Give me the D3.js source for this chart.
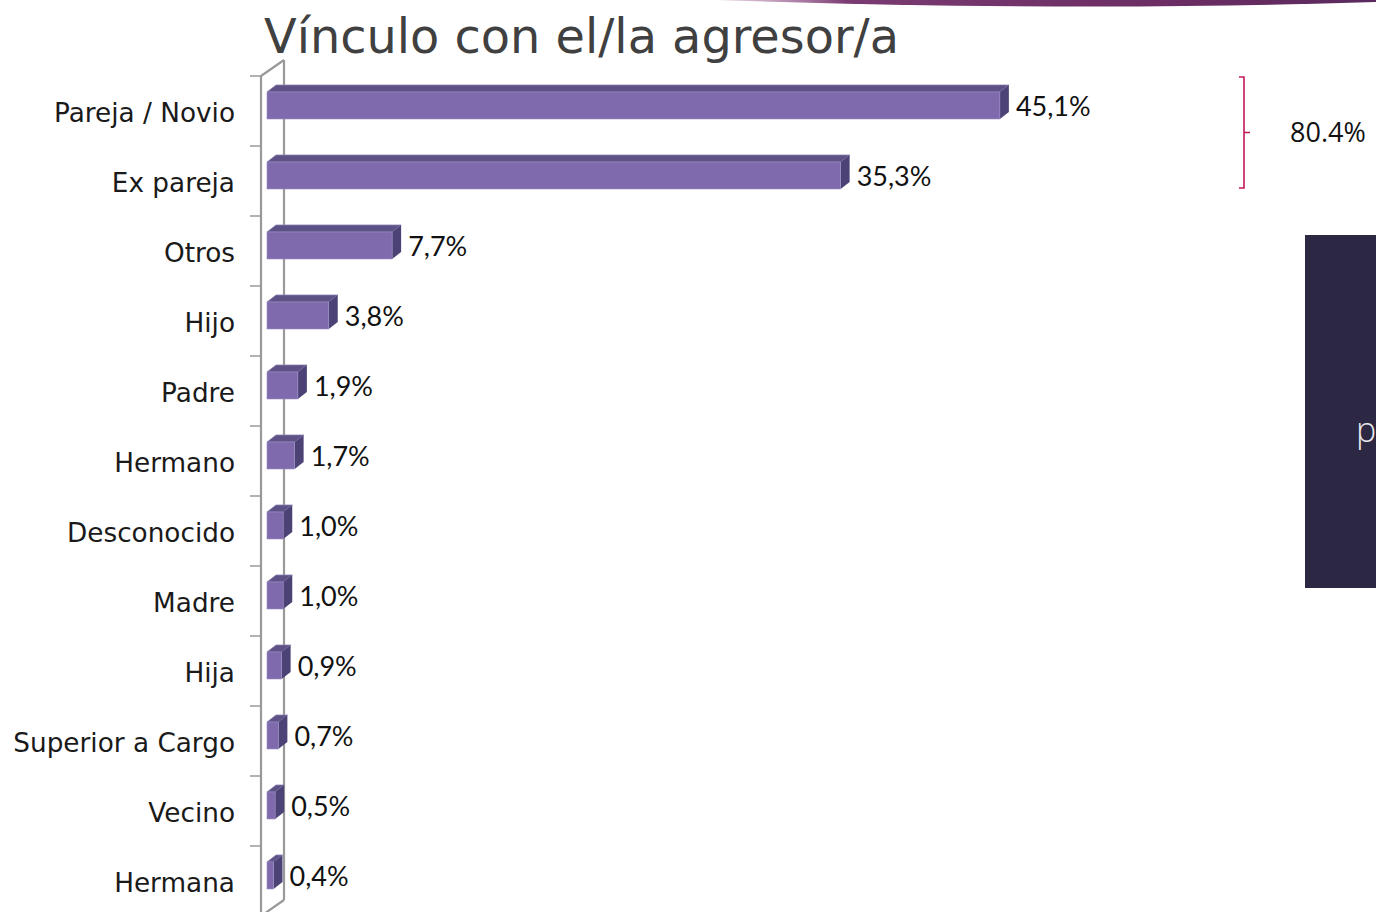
<!DOCTYPE html>
<html><head><meta charset="utf-8">
<script src="https://cdn.jsdelivr.net/npm/d3@7"></script>
<style>html,body{margin:0;padding:0;background:#fff;overflow:hidden}</style>
</head><body>
<svg id="c" width="1376" height="912"></svg>
<script>
const categories = ["Pareja / Novio","Ex pareja","Otros","Hijo","Padre","Hermano","Desconocido","Madre","Hija","Superior a Cargo","Vecino","Hermana"];
const values = [45.1,35.3,7.7,3.8,1.9,1.7,1.0,1.0,0.9,0.7,0.5,0.4];
const valueLabels = ["45,1%","35,3%","7,7%","3,8%","1,9%","1,7%","1,0%","1,0%","0,9%","0,7%","0,5%","0,4%"];
const titleText = "Vínculo con el/la agresor/a";
const bracketLabel = "80.4%";
const sideText = "p";

const svg = d3.select("#c");
const CAT_FONT = "'DejaVu Sans', sans-serif";
const VAL_FONT = "Lato, 'Noto Sans', sans-serif";

// decorative top band
const defs = svg.append("defs");
const g1 = defs.append("linearGradient").attr("id","topband").attr("x1","0").attr("x2","1");
g1.append("stop").attr("offset","0").attr("stop-color","#b07aa8").attr("stop-opacity",0.3);
g1.append("stop").attr("offset","0.2").attr("stop-color","#7a3a72");
g1.append("stop").attr("offset","0.7").attr("stop-color","#6b2d63");
g1.append("stop").attr("offset","1").attr("stop-color","#5a2a5e");
svg.append("path").attr("d","M715,0 L1376,0 L1376,2 Q1080,12 715,0 Z").attr("fill","url(#topband)");

const x = d3.scaleLinear().domain([0,50]).range([267,1079.5]);
const y = d3.scaleBand().domain(categories).range([76,916]).padding(0);
const bw = y.bandwidth();
const DX = 9, DY = 7, FT = 16, FH = 27;
const WX = 23, WY = 16;
const x0 = 261;

// axis wall lines
const axisG = svg.append("g").attr("stroke","#999").attr("stroke-width",2.2).attr("fill","none");
const yTop = y.range()[0], yBot = y.range()[1];
axisG.append("line").attr("x1",x0).attr("y1",yTop).attr("x2",x0).attr("y2",yBot);
axisG.append("line").attr("x1",x0+WX).attr("y1",yTop-WY).attr("x2",x0+WX).attr("y2",yBot-WY);
axisG.append("line").attr("x1",x0).attr("y1",yTop).attr("x2",x0+WX).attr("y2",yTop-WY);
axisG.append("line").attr("x1",x0).attr("y1",yBot).attr("x2",x0+WX).attr("y2",yBot-WY);
const tickYs = categories.map(c => y(c)).concat([yBot]);
axisG.selectAll("line.tick").data(tickYs).enter().append("line").attr("class","tick")
  .attr("x1",x0-11).attr("x2",x0).attr("y1",d=>d).attr("y2",d=>d).attr("stroke-width",1.5);

// bars
const data = categories.map((c,i)=>({c, v:values[i], lab:valueLabels[i]}));
const bars = svg.append("g").selectAll("g").data(data).enter().append("g");
bars.append("path").attr("fill","#5d5186").attr("stroke","#8c80b0").attr("stroke-width",0.8)
  .attr("d", d=>{const t=y(d.c)+FT, a=x(0), b=x(d.v);
    return `M${a},${t} L${a+DX},${t-DY} L${b+DX},${t-DY} L${b},${t} Z`;});
bars.append("path").attr("fill","#4d4275")
  .attr("d", d=>{const t=y(d.c)+FT, b=x(d.v);
    return `M${b},${t} L${b+DX},${t-DY} L${b+DX},${t-DY+FH} L${b},${t+FH} Z`;});
bars.append("rect").attr("fill","#7e6aad").attr("stroke","#9a8cc4").attr("stroke-width",0.6)
  .attr("x",x(0)).attr("y",d=>y(d.c)+FT).attr("width",d=>x(d.v)-x(0)).attr("height",FH);

// value labels
bars.append("text").attr("x",d=>x(d.v)+DX+7).attr("y",d=>y(d.c)+FT+FH/2)
  .attr("dominant-baseline","central").attr("font-family",VAL_FONT).attr("font-size",27)
  .attr("fill","#111").text(d=>d.lab);

// category labels
svg.append("g").selectAll("text").data(categories).enter().append("text")
  .attr("x",235).attr("y",d=>y(d)+bw/2+2).attr("text-anchor","end")
  .attr("dominant-baseline","central").attr("font-family",CAT_FONT).attr("font-size",26.3)
  .attr("fill","#1a1a1a").text(d=>d);

// title
svg.append("text").attr("x",264).attr("y",53).attr("font-family",CAT_FONT).attr("font-size",47.8)
  .attr("fill","#404040").text(titleText);

// bracket grouping first two bars
const bTop = y(categories[0])+1, bBot = y(categories[1])+42, bX = 1244;
const bMid = (bTop+bBot)/2;
svg.append("path").attr("fill","none").attr("stroke","#c2185b").attr("stroke-width",1.6)
  .attr("d",`M${bX-5},${bTop} L${bX},${bTop} L${bX},${bBot} L${bX-5},${bBot} M${bX},${bMid} L${bX+6},${bMid}`);
svg.append("text").attr("x",1290).attr("y",bMid+9).attr("font-family","'Open Sans', sans-serif")
  .attr("font-size",27).attr("fill","#111").text(bracketLabel);

// dark side panel
svg.append("rect").attr("x",1305).attr("y",235).attr("width",80).attr("height",353).attr("fill","#2c2742");
svg.append("text").attr("x",1356).attr("y",442).attr("font-family","'Open Sans', sans-serif")
  .attr("font-size",34).attr("fill","#e6e6ea").attr("font-weight",300).text(sideText);
</script>
</body></html>
